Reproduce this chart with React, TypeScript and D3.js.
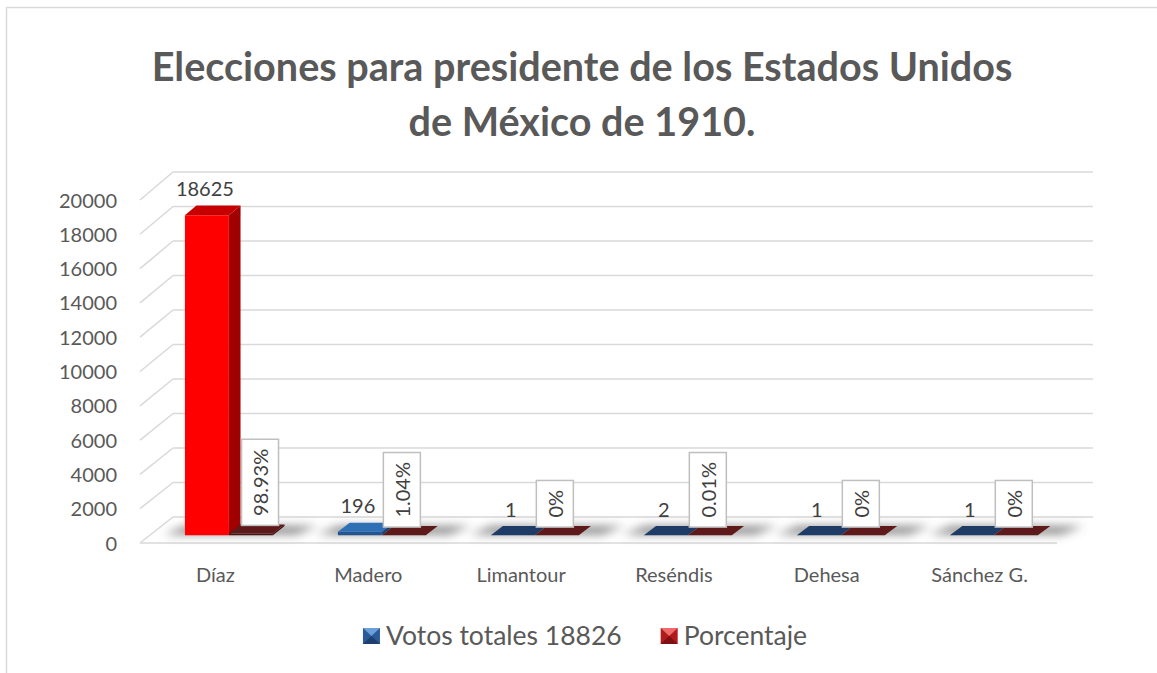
import React, { useEffect, useRef } from "react";
import * as d3 from "d3";

// ---------- data ----------
const categories = ["Díaz", "Madero", "Limantour", "Reséndis", "Dehesa", "Sánchez G."];
const votos = [18625, 196, 1, 2, 1, 1];
const porcentaje = [98.93, 1.04, 0, 0.01, 0, 0];
const seriesNames = ["Votos totales 18826", "Porcentaje"];
const yTicks = [0, 2000, 4000, 6000, 8000, 10000, 12000, 14000, 16000, 18000, 20000];
const titleLines = ["Elecciones para presidente de los Estados Unidos", "de México de 1910."];

// ---------- styles ----------
const W = 1157;
const H = 673;
const FONT = "Lato, 'Open Sans', sans-serif";
const TEXT_GRAY = "#595959";
const LABEL_GRAY = "#404040";
const GRID = "#d9d9d9";
const votosFaces = [
  { front: "#ff0000", side: "#a00000", top: "#c60000" },
  { front: "#24558e", side: "#1b4373", top: "#2f6fb5" },
  { front: "#17305a", side: "#132848", top: "#1f3c67" },
  { front: "#17305a", side: "#132848", top: "#1f3c67" },
  { front: "#17305a", side: "#132848", top: "#1f3c67" },
  { front: "#17305a", side: "#132848", top: "#1f3c67" },
];
const pctFace = { front: "#481010", side: "#3a0c0c", top: "#5e1a1a" };

export default function App() {
  const ref = useRef<SVGSVGElement | null>(null);

  useEffect(() => {
    const svg = d3.select(ref.current);
    svg.selectAll("*").remove();

    const defs = svg.append("defs");
    defs
      .append("filter")
      .attr("id", "blur")
      .attr("x", "-50%")
      .attr("y", "-150%")
      .attr("width", "200%")
      .attr("height", "400%")
      .append("feGaussianBlur")
      .attr("stdDeviation", 5);

    // background + border
    svg.append("rect").attr("width", W).attr("height", H).attr("fill", "#fff");
    svg
      .append("rect")
      .attr("x", 6.5)
      .attr("y", 7.5)
      .attr("width", W + 20)
      .attr("height", H + 20)
      .attr("fill", "#fff")
      .attr("stroke", GRID)
      .attr("stroke-width", 1.5);

    // ---------- 3D projection ----------
    const yF = d3.scaleLinear().domain([0, 20000]).range([543, 200]);
    const yB = d3.scaleLinear().domain([0, 20000]).range([517, 172]);
    const xF = d3.scaleLinear().domain([0, 1]).range([140, 1057]);
    const xB = d3.scaleLinear().domain([0, 1]).range([173, 1093]);
    const P = (u: number, z: number, v: number): [number, number] => {
      const x = xF(u) + (xB(u) - xF(u)) * z;
      const y = yF(v) * (1 - z) + yB(v) * z;
      return [x, y];
    };
    const poly = (pts: [number, number][]) => pts.map((p) => p.join(",")).join(" ");

    const band = d3.scaleBand<string>().domain(categories).range([0, 1]).paddingInner(0.425).paddingOuter(0.2125);
    const sub = d3.scaleBand<number>().domain([0, 1]).range([0, band.bandwidth()]);
    const shift = 2.5 / 917;
    const z0 = 0.3;
    const z1 = 0.65;

    // ---------- walls / gridlines ----------
    const grid = svg.append("g").attr("stroke", GRID).attr("stroke-width", 1.5).attr("fill", "none");
    yTicks.forEach((v) => {
      const a = P(0, 1, v);
      const b = P(1, 1, v);
      grid.append("line").attr("x1", a[0]).attr("y1", a[1]).attr("x2", b[0]).attr("y2", b[1]);
      const c = P(0, 0, v);
      grid.append("line").attr("x1", c[0]).attr("y1", c[1]).attr("x2", a[0]).attr("y2", a[1]);
    });
    {
      const a = P(0, 0, 0);
      const b = P(1, 0, 0);
      grid.append("line").attr("x1", a[0]).attr("y1", a[1]).attr("x2", b[0]).attr("y2", b[1]);
    }

    // axis labels
    svg
      .append("g")
      .selectAll("text")
      .data(yTicks)
      .join("text")
      .attr("x", 117)
      .attr("y", (d) => yF(d) + 7.5)
      .attr("text-anchor", "end")
      .attr("font-family", FONT)
      .attr("font-size", 20)
      .attr("fill", TEXT_GRAY)
      .text((d) => String(d));

    // category labels
    svg
      .append("g")
      .selectAll("text")
      .data(categories)
      .join("text")
      .attr("x", (d) => P((band(d) as number) + band.bandwidth() / 2, 0, 0)[0] - 1)
      .attr("y", 582)
      .attr("text-anchor", "middle")
      .attr("font-family", FONT)
      .attr("font-size", 20)
      .attr("fill", TEXT_GRAY)
      .text((d) => d);

    // shadows
    const shadows = svg.append("g").attr("filter", "url(#blur)");
    categories.forEach((c) => {
      const ua = (band(c) as number) + shift - 22 / 917;
      const ub = (band(c) as number) + band.bandwidth() + shift + 22 / 917;
      shadows
        .append("polygon")
        .attr("points", poly([P(ua, z0 + 0.03, 0), P(ub, z0 + 0.03, 0), P(ub + 0.012, z1, 0), P(ua + 0.012, z1, 0)]))
        .attr("fill", "#5a5a5a")
        .attr("opacity", 0.7);
    });

    // bars
    const bars = svg.append("g");
    const drawBar = (u0: number, u1: number, v: number, f: { front: string; side: string; top: string }) => {
      bars.append("polygon").attr("points", poly([P(u1, z0, 0), P(u1, z1, 0), P(u1, z1, v), P(u1, z0, v)])).attr("fill", f.side);
      bars.append("polygon").attr("points", poly([P(u0, z0, 0), P(u1, z0, 0), P(u1, z0, v), P(u0, z0, v)])).attr("fill", f.front);
      bars.append("polygon").attr("points", poly([P(u0, z0, v), P(u1, z0, v), P(u1, z1, v), P(u0, z1, v)])).attr("fill", f.top);
    };

    const labels = svg.append("g");
    categories.forEach((c, i) => {
      const b0 = (band(c) as number) + shift;
      const u0a = b0 + (sub(0) as number);
      const u1a = u0a + sub.bandwidth();
      const u0b = b0 + (sub(1) as number);
      const u1b = u0b + sub.bandwidth();
      drawBar(u0a, u1a, votos[i], votosFaces[i]);
      drawBar(u0b, u1b, porcentaje[i], pctFace);

      // votos label
      const mid = (u0a + u1a) / 2;
      const topBack = P(mid, z1, votos[i])[1];
      labels
        .append("text")
        .attr("x", P(mid, z0, 0)[0] - 2)
        .attr("y", topBack - 9.5)
        .attr("text-anchor", "middle")
        .attr("font-family", FONT)
        .attr("font-size", 20)
        .attr("fill", LABEL_GRAY)
        .text(String(votos[i]));

      // porcentaje label (rotated, boxed)
      const midB = (u0b + u1b) / 2;
      const bottom = P(midB, z1, porcentaje[i])[1] + 1;
      const g = labels.append("g");
      const t = g
        .append("text")
        .attr("font-family", FONT)
        .attr("font-size", 20)
        .attr("fill", LABEL_GRAY)
        .attr("text-anchor", "middle")
        .attr("dominant-baseline", "central")
        .text(porcentaje[i] + "%");
      const len = (t.node() as SVGTextElement).getComputedTextLength();
      const bw = 37;
      const bh = len + 19;
      let left = P(midB, z0, 0)[0] - 2 - bw / 2;
      const prevTop = P(u1a, z1, votos[i]);
      if (prevTop[1] < bottom - bh) left = Math.max(left, prevTop[0] + 1);
      g.insert("rect", "text")
        .attr("x", left)
        .attr("y", bottom - bh)
        .attr("width", bw)
        .attr("height", bh)
        .attr("fill", "#fff")
        .attr("stroke", "#bfbfbf")
        .attr("stroke-width", 1.5);
      t.attr("transform", `translate(${left + bw / 2},${bottom - bh / 2}) rotate(-90)`);
    });

    // title
    const titleG = svg.append("g").attr("font-family", FONT).attr("font-weight", "bold").attr("fill", TEXT_GRAY).attr("text-anchor", "middle");
    const t1 = titleG.append("text").attr("x", 582).attr("y", 81).attr("font-size", 36).text(titleLines[0]);
    const l1 = (t1.node() as SVGTextElement).getComputedTextLength();
    const fs = (36 * 861) / l1;
    t1.attr("font-size", fs);
    titleG.append("text").attr("x", 582).attr("y", 136).attr("font-size", fs).text(titleLines[1]);

    // legend
    const legend = svg.append("g").attr("font-family", FONT).attr("font-size", 26.5).attr("fill", TEXT_GRAY);
    const markerCols = [
      { base: "#2a5a98", light: "#6b9fd8", dark: "#1d3f6d" },
      { base: "#b01c1c", light: "#f06a6a", dark: "#7d1010" },
    ];
    const items = seriesNames.map((n) => {
      const tt = legend.append("text").text(n);
      return { tt, w: (tt.node() as SVGTextElement).getComputedTextLength() };
    });
    const ms = 17;
    const gapM = 6;
    const gapI = 39;
    const total = items.reduce((s, it) => s + ms + gapM + it.w, 0) + gapI * (items.length - 1);
    let x = 585 - total / 2;
    const my = 628;
    items.forEach((it, k) => {
      const c = markerCols[k];
      legend.append("rect").attr("x", x).attr("y", my).attr("width", ms).attr("height", 16).attr("fill", c.base);
      legend
        .append("polygon")
        .attr("points", poly([[x, my], [x + ms, my], [x + ms / 2, my + 8]]))
        .attr("fill", c.light);
      legend
        .append("polygon")
        .attr("points", poly([[x, my + 16], [x + ms, my + 16], [x + ms / 2, my + 8]]))
        .attr("fill", c.dark);
      it.tt.attr("x", x + ms + gapM).attr("y", 645);
      x += ms + gapM + it.w + gapI;
    });
  }, []);

  return <svg ref={ref} width={W} height={H} style={{ position: "absolute", left: 0, top: 0 }} />;
}
